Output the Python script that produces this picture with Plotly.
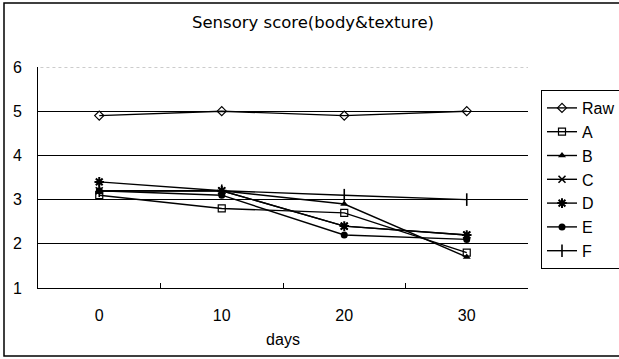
import plotly.graph_objects as go

# Sensory score (body & texture) over storage days
days = ["0", "10", "20", "30"]
raw = [4.9, 5.0, 4.9, 5.0]
a = [3.1, 2.8, 2.7, 1.8]
b = [3.2, 3.2, 2.9, 1.7]
c = [3.2, 3.2, 2.4, 2.2]
d = [3.4, 3.2, 2.4, 2.2]
e = [3.2, 3.1, 2.2, 2.1]
f = [3.2, 3.2, 3.1, 3.0]

series = [
    ("Raw", raw, dict(symbol="diamond-open", size=7, line=dict(width=1.2))),
    ("A", a, dict(symbol="square-open", size=7, line=dict(width=1.2))),
    ("B", b, dict(symbol="triangle-up", size=7)),
    ("C", c, dict(symbol="x-thin-open", size=7, line=dict(width=1.6))),
    ("D", d, dict(symbol="asterisk-open", size=8, line=dict(width=2))),
    ("E", e, dict(symbol="circle", size=7)),
    ("F", f, dict(symbol="line-ns-open", size=9, line=dict(width=1.6))),
]

fig = go.Figure()
for name, vals, mk in series:
    mk = dict(mk, color="black")
    if "line" in mk:
        mk["line"] = dict(mk["line"], color="black")
    fig.add_trace(go.Scatter(
        x=days, y=vals, name=name, mode="lines+markers",
        line=dict(color="black", width=1.4),
        marker=mk,
    ))

W, H = 619, 359
L, R, T, B = 38, 528, 67, 288
pw, ph = R - L, B - T


def px(xp):
    return (xp - L) / pw


def py(yp):
    return (B - yp) / ph


base_font = dict(family="Liberation Sans, Arial, sans-serif", size=16, color="black")

fig.update_layout(
    width=W, height=H,
    margin=dict(l=L, r=W - R, t=T, b=H - B, autoexpand=False),
    paper_bgcolor="white", plot_bgcolor="white",
    font=base_font,
    title=dict(
        text="Sensory score(body&texture)",
        font=dict(family="DejaVu Sans, sans-serif", size=16.5, color="black"),
        x=313 / W, xanchor="center", y=1 - 22 / H, yanchor="middle",
    ),
    showlegend=True,
    legend=dict(
        x=px(541), y=py(90), xanchor="left", yanchor="top",
        bordercolor="black", borderwidth=1, bgcolor="white",
        font=dict(size=16), tracegroupgap=0,
    ),
    xaxis=dict(
        type="category", range=[-0.5, 3.5],
        showline=True, linecolor="black", linewidth=1,
        ticks="inside", tickson="boundaries", ticklen=5, tickcolor="black",
        ticklabelstandoff=13,
        showgrid=False, zeroline=False,
        title=dict(text="days", standoff=10, font=dict(size=16)),
    ),
    yaxis=dict(
        range=[1, 6], tickvals=[1, 2, 3, 4, 5, 6],
        showline=True, linecolor="black", linewidth=1,
        ticks="inside", ticklen=4, tickcolor="black",
        ticklabelstandoff=12,
        showgrid=True, gridcolor="black", gridwidth=1,
        zeroline=False,
    ),
    shapes=[
        # soften the top gridline into a faint dotted rule
        dict(type="line", xref="paper", yref="y", x0=0.005, x1=1, y0=6, y1=6,
             line=dict(color="white", width=2), layer="below"),
        dict(type="line", xref="paper", yref="y", x0=0.005, x1=1, y0=6, y1=6,
             line=dict(color="#999", width=1, dash="dot"), layer="below"),
        # outer chart frame
        dict(type="rect", xref="paper", yref="paper",
             x0=px(4), x1=px(660), y0=py(356), y1=py(3),
             line=dict(color="black", width=1.5), layer="above"),
    ],
)

fig.write_html("out.html")
